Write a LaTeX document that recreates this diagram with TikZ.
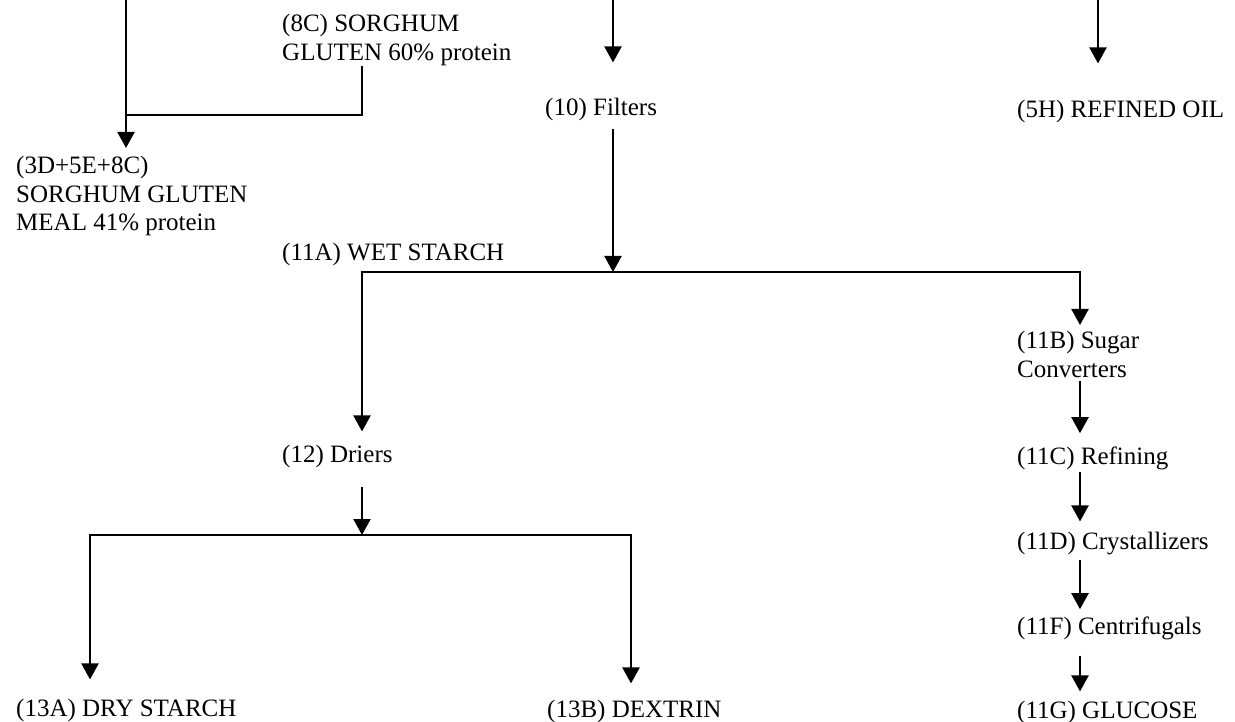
\documentclass[tikz,border=0pt]{standalone}
\usepackage{fontspec}
\setmainfont{Liberation Serif}
\usetikzlibrary{arrows.meta}

\begin{document}
\begin{tikzpicture}[x=1pt, y=-1pt,
	link/.style={black, line width=2.2pt},
	flow/.style={link, -{Triangle[width=17pt,length=16pt]}},
	stage/.style={inner sep=0pt, font=\fontsize{25}{28.5}\selectfont}]

	\useasboundingbox (0,0) rectangle (1235,722);

	\node[stage, anchor=north west, align=left] (gluten) at (282,14) {(8C) SORGHUM\\GLUTEN 60\% protein};
	\node[stage, anchor=north west, align=left] (meal) at (16,156) {(3D+5E+8C)\\SORGHUM GLUTEN\\MEAL 41\% protein};
	\node[stage, anchor=base west] (filters) at (545,116) {(10) Filters};
	\node[stage, anchor=base west] (oil) at (1017,118) {(5H) REFINED OIL};
	\node[stage, anchor=base west] (wet) at (282,261) {(11A) WET STARCH};
	\node[stage, anchor=north west, align=left] (sugar) at (1017,331) {(11B) Sugar\\Converters};
	\node[stage, anchor=base west] (refining) at (1017,464) {(11C) Refining};
	\node[stage, anchor=base west] (crystal) at (1017,549) {(11D) Crystallizers};
	\node[stage, anchor=base west] (centri) at (1017,634) {(11F) Centrifugals};
	\node[stage, anchor=base west] (glucose) at (1017,718) {(11G) GLUCOSE};
	\node[stage, anchor=base west] (driers) at (282,462) {(12) Driers};
	\node[stage, anchor=base west] (drystarch) at (16,716) {(13A) DRY STARCH};
	\node[stage, anchor=base west] (dextrin) at (547,717) {(13B) DEXTRIN};

	\coordinate (inA) at (126,0);
	\coordinate (inB) at (613,0);
	\coordinate (inC) at (1098,0);
	\coordinate (joinA) at (126,115);
	\coordinate (splitA) at (613,272);
	\coordinate (splitB) at (362,535);
	\coordinate (colG) at (362,0);
	\coordinate (colS) at (1080,0);
	\coordinate (colL) at (90,0);
	\coordinate (colR) at (631,0);

	\draw[link] (gluten.south -| colG) |- (joinA);
	\draw[flow, shorten >=8pt] (inA) -- (inA |- meal.north);
	\draw[flow, shorten >=36pt] (inB) -- (inB |- filters.north);
	\draw[flow, shorten >=37pt] (inC) -- (inC |- oil.north);
	\draw[flow, shorten <=7pt] (filters.south -| inB) -- (splitA);
	\draw[flow, shorten >=13pt] (splitA) -| (driers.north -| colG);
	\draw[flow, shorten >=6pt] (splitA) -| (sugar.north -| colS);
	\draw[flow, shorten <=4pt, shorten >=13pt] (sugar.south -| colS) -- (refining.north -| colS);
	\draw[flow, shorten <=2pt, shorten >=10pt] (refining.south -| colS) -- (crystal.north -| colS);
	\draw[flow, shorten <=5pt, shorten >=7pt] (crystal.south -| colS) -- (centri.north -| colS);
	\draw[flow, shorten <=16pt, shorten >=9pt] (centri.south -| colS) -- (glucose.north -| colS);
	\draw[flow, shorten <=19pt] (driers.south -| colG) -- (splitB);
	\draw[flow, shorten >=19pt] (splitB) -| (drystarch.north -| colL);
	\draw[flow, shorten >=16pt] (splitB) -| (dextrin.north -| colR);
\end{tikzpicture}
\end{document}
